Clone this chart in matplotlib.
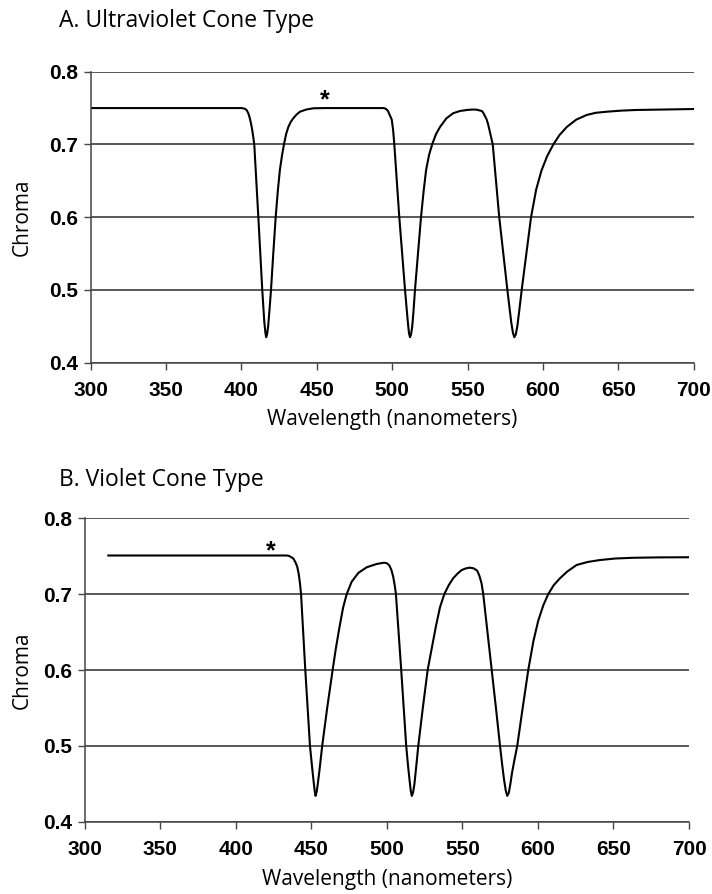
import matplotlib
matplotlib.use("Agg")
import matplotlib.pyplot as plt

# Panel A - ultraviolet cone type (wavelength in nm, chroma)
wl_a = [300, 400, 401.3, 402.4, 403.5, 404.5, 405.3, 406.1, 406.8, 407.5,
        408.5, 411.2, 413.8, 414.6, 415.2, 415.9, 416.4, 417.0, 417.7, 418.5,
        419.6, 421.1, 422.7, 424.2, 425.5, 426.9, 428.2, 429.6, 431.1, 432.7,
        434.4, 436.5, 438.8, 443.0, 447.7, 455.0, 470.0, 494.1, 495.3, 496.3,
        497.2, 498.0, 498.9, 499.7, 500.6, 501.4, 504.7, 508.5, 509.6, 510.4,
        511.1, 511.8, 512.5, 513.3, 514.1, 515.1, 517.1, 519.1, 520.8, 522.5,
        524.5, 526.5, 529.0, 531.7, 536.0, 540.5, 545.0, 550.0, 553.8, 556.0,
        557.5, 559.4, 560.3, 561.0, 561.8, 562.7, 563.6, 564.5, 565.6, 566.7,
        571.0, 576.4, 577.9, 579.0, 580.1, 581.0, 582.0, 583.0, 584.2, 585.9,
        589.0, 592.1, 595.5, 599.0, 602.8, 606.9, 611.0, 615.8, 622.0, 629.0,
        635.0, 642.3, 652.0, 662.2, 680.0, 700.0]
chroma_a = [0.750, 0.750, 0.7495, 0.749, 0.747, 0.743, 0.738, 0.731, 0.724, 0.715,
            0.700, 0.600, 0.500, 0.474, 0.455, 0.441, 0.435, 0.439, 0.450, 0.470,
            0.500, 0.550, 0.600, 0.638, 0.665, 0.685, 0.700, 0.714, 0.724, 0.731,
            0.736, 0.741, 0.745, 0.748, 0.7497, 0.750, 0.750, 0.750, 0.7495, 0.748,
            0.746, 0.742, 0.738, 0.734, 0.720, 0.700, 0.600, 0.500, 0.474, 0.455,
            0.441, 0.435, 0.439, 0.450, 0.470, 0.500, 0.550, 0.600, 0.635, 0.665,
            0.686, 0.700, 0.714, 0.724, 0.736, 0.743, 0.746, 0.7475, 0.748, 0.7478,
            0.747, 0.746, 0.744, 0.741, 0.738, 0.734, 0.728, 0.720, 0.710, 0.700,
            0.600, 0.500, 0.474, 0.455, 0.441, 0.435, 0.439, 0.450, 0.470, 0.500,
            0.550, 0.600, 0.638, 0.664, 0.684, 0.700, 0.713, 0.724, 0.734, 0.7405,
            0.7435, 0.745, 0.7465, 0.7474, 0.748, 0.7487]

# Panel B - violet cone type
wl_b = [315.6, 433.7, 435.2, 436.5, 438.1, 439.5, 440.7, 441.7, 442.5, 443.2,
        446.0, 449.1, 450.4, 451.4, 452.2, 452.8, 453.6, 454.4, 455.4, 457.2,
        460.5, 464.1, 466.2, 468.5, 471.0, 473.4, 476.7, 481.1, 486.6, 493.2,
        498.1, 500.0, 501.6, 503.0, 504.2, 505.1, 506.0, 509.5, 512.8, 514.0,
        515.0, 515.8, 516.5, 517.3, 518.2, 519.3, 520.8, 523.8, 527.0, 532.5,
        535.2, 538.0, 541.0, 543.9, 546.7, 549.5, 552.3, 555.0, 557.5, 559.8,
        561.3, 562.7, 563.8, 569.4, 572.2, 574.9, 576.4, 577.6, 578.7, 579.7,
        580.7, 581.7, 582.9, 584.5, 586.3, 589.9, 593.6, 597.0, 600.2, 603.5,
        606.8, 610.5, 614.6, 619.5, 625.6, 633.0, 641.0, 651.0, 663.1, 680.0,
        700.0]
chroma_b = [0.751, 0.751, 0.7505, 0.749, 0.747, 0.742, 0.736, 0.726, 0.714, 0.700,
            0.600, 0.500, 0.474, 0.455, 0.441, 0.434, 0.440, 0.452, 0.468, 0.500,
            0.550, 0.600, 0.628, 0.655, 0.682, 0.700, 0.7164, 0.728, 0.7354, 0.7398,
            0.7415, 0.7408, 0.738, 0.732, 0.723, 0.713, 0.700, 0.600, 0.500, 0.474,
            0.455, 0.441, 0.434, 0.438, 0.449, 0.470, 0.500, 0.550, 0.600, 0.658,
            0.683, 0.700, 0.712, 0.721, 0.727, 0.7318, 0.734, 0.735, 0.734, 0.731,
            0.724, 0.714, 0.700, 0.600, 0.550, 0.500, 0.474, 0.455, 0.441, 0.434,
            0.438, 0.449, 0.465, 0.482, 0.500, 0.550, 0.600, 0.638, 0.665, 0.685,
            0.700, 0.712, 0.721, 0.730, 0.7385, 0.7425, 0.745, 0.747, 0.748, 0.7485,
            0.7487]

x_ticks = [300, 350, 400, 450, 500, 550, 600, 650, 700]
y_ticks = [0.4, 0.5, 0.6, 0.7, 0.8]

# asterisk markers (wavelength, chroma)
star_a = (455.4, 0.760)
star_b = (423.0, 0.757)

TEXT_FONT = "Open Sans"
TICK_FONT = "Liberation Sans"


def style_axes(ax):
    ax.set_xlim(300, 700)
    ax.set_ylim(0.4, 0.8)
    ax.set_xticks(x_ticks)
    ax.set_yticks(y_ticks)
    ax.set_yticklabels([f"{v:.1f}" for v in y_ticks])
    ax.yaxis.grid(True, color="#2a2a2a", linewidth=1.1)
    ax.set_axisbelow(True)
    for side in ("top", "right"):
        ax.spines[side].set_visible(False)
    for side in ("left", "bottom"):
        ax.spines[side].set_color("#444444")
        ax.spines[side].set_linewidth(1.1)
    ax.tick_params(axis="both", direction="out", length=5, width=1, color="#444444")
    ax.tick_params(axis="x", pad=8)
    ax.tick_params(axis="y", pad=4)
    for lab in ax.get_xticklabels() + ax.get_yticklabels():
        lab.set_fontfamily(TICK_FONT)
        lab.set_fontweight("bold")
        lab.set_fontsize(15)


def draw_panel(ax, wl, chroma, star):
    ax.plot(wl, chroma, color="black", linewidth=1.5, solid_joinstyle="round")
    ax.text(star[0], star[1], "*", ha="center", va="center", fontsize=18,
            fontweight="bold", family=TICK_FONT)
    style_axes(ax)


def main():
    fig = plt.figure(figsize=(7.12, 8.94), dpi=100)

    ax_a = fig.add_axes([0.1274, 0.5943, 0.8469, 0.3255])
    draw_panel(ax_a, wl_a, chroma_a, star_a)

    ax_b = fig.add_axes([0.119, 0.0809, 0.8487, 0.3393])
    draw_panel(ax_b, wl_b, chroma_b, star_b)

    # titles
    fig.text(59 / 712, 1 - 27 / 894, "A. Ultraviolet Cone Type", family=TEXT_FONT,
             fontsize=16.5, va="baseline", ha="left")
    fig.text(59 / 712, 1 - 486 / 894, "B. Violet Cone Type", family=TEXT_FONT,
             fontsize=16.5, va="baseline", ha="left")

    # axis labels
    fig.text(392 / 712, 1 - 420 / 894, "Wavelength (nanometers)", family=TEXT_FONT,
             fontsize=15, ha="center", va="center")
    fig.text(387 / 712, 1 - 880 / 894, "Wavelength (nanometers)", family=TEXT_FONT,
             fontsize=15, ha="center", va="center")
    fig.text(22 / 712, 1 - 217 / 894, "Chroma", family=TEXT_FONT, fontsize=15,
             rotation=90, ha="center", va="center")
    fig.text(22 / 712, 1 - 670 / 894, "Chroma", family=TEXT_FONT, fontsize=15,
             rotation=90, ha="center", va="center")

    fig.savefig("out.png", dpi=100)


if __name__ == "__main__":
    main()
